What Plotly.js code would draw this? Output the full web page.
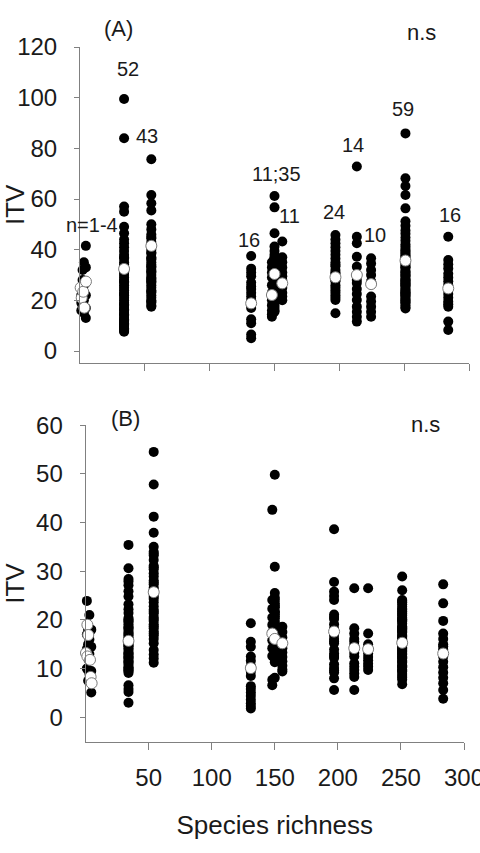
<!DOCTYPE html>
<html>
<head>
<meta charset="utf-8">
<script src="https://cdn.plot.ly/plotly-3.0.1.min.js"></script>
<style>html,body{margin:0;padding:0;background:#fff;}#chart{width:480px;height:853px;}</style>
</head>
<body>
<div id="chart"></div>
<script>
// ---------------- Panel A data ----------------
// small-richness cluster (n = 1-4 per site)
const richA_small = [1, 2, 3, 4.5];
const itvA_s1 = [16, 19, 22, 25];
const itvA_s2 = [18, 21, 24, 28, 32];
const itvA_s3 = [15, 20, 23, 26, 35];
const itvA_s4 = [13, 17, 22, 27, 33, 41.5];

const richA = [34, 55, 132, 148, 150, 156, 197, 213.5, 224.5, 251, 284];
const itvA_34 = [99.5, 84, 57, 55, 49, 46.5, 44, 42.5, 41, 39.5, 38, 36.5, 35, 34, 33, 31.5, 30, 29, 28, 27, 26, 25, 24, 23, 22, 21, 20, 19, 18, 17, 16, 15, 14.5, 14, 13, 12, 11.5, 11, 10.5, 10, 9.5, 9, 8.5, 8, 7.6, 37, 31, 27.5, 22.5, 18.5, 12.5, 16.5];
const itvA_55 = [75.7, 61.6, 58.3, 55.5, 50, 48, 46, 44.5, 43, 41.5, 40, 38.5, 37, 36, 35, 34, 33, 32, 31, 30, 29, 28, 27, 26, 25, 24, 23, 22, 21, 20, 19, 18, 17.5, 45, 39, 33.5, 27.5, 23.5, 19.5, 31.5, 42, 36.5, 28.5];
const itvA_132 = [37.5, 32.5, 31, 29.5, 25.5, 24.5, 23, 21.5, 20, 18.5, 17, 12.5, 11, 6.5, 5, 27];
const itvA_148 = [35, 33, 31, 29, 26, 23, 20, 18, 16, 14.5, 13.5];
const itvA_150 = [61.2, 56.7, 46.5, 41.2, 39.5, 38, 37, 36, 35, 34, 33, 32, 31, 30, 29, 28, 27, 26, 25, 24, 23, 22, 21, 20, 19, 18, 17, 16, 15.5, 28.5, 25.5, 21.5, 32.5, 36.5, 30.5];
const itvA_156 = [43.2, 37, 35, 33, 31, 29.5, 28, 25, 23, 21.5, 20];
const itvA_197 = [45.8, 44, 42.5, 41, 39.5, 38, 36.5, 35, 33.5, 32, 30.5, 29, 27.5, 26, 25, 24, 23, 22, 21, 20.1, 14.9, 34, 28, 31];
const itvA_213 = [72.8, 45.1, 42.5, 37.2, 33.3, 28, 26.8, 24.5, 22.5, 20.1, 17.5, 15.5, 13.5, 11.6];
const itvA_224 = [36.6, 34.5, 32, 30, 27.5, 21.5, 19.5, 17.5, 15.5, 13.5];
const itvA_251 = [85.9, 68.2, 65.1, 61.6, 56.3, 51.2, 49.4, 47.6, 46.3, 44.8, 43.5, 42.1, 41.2, 40.3, 39.1, 38.4, 37.2, 36.1, 35.3, 34.4, 33.6, 32.8, 31.7, 30.9, 30.2, 29.4, 28.5, 27.8, 26.9, 26.1, 25.4, 24.6, 23.7, 22.9, 22.1, 21.3, 20.6, 19.8, 18.9, 18.1, 17.3, 16.8, 19.2, 21.8, 24.1, 27.3, 29.8, 33.1, 36.7, 39.6, 23.2, 25.9, 28.1, 31.2, 34.9, 20.1, 22.6, 37.8, 26.5];
const itvA_284 = [45.1, 35.9, 32.6, 30.5, 29, 27.5, 26, 24, 22.5, 21, 19.5, 18.5, 17.5, 11.6, 8.3, 34.2];

const meanA_rich = [0.5, 1.3, 2.5, 3.3, 4.6, 34, 55, 132, 148, 150, 156, 197, 213.5, 224.5, 251, 284];
const meanA_itv = [25, 21, 23.4, 17.1, 27.4, 32.4, 41.5, 18.8, 22.1, 30.4, 26.7, 29.1, 30, 26.4, 35.7, 24.7];
const countA = ['n=1-4', '52', '43', '16', '11;35', '11', '24', '14', '10', '59', '16'];

// ---------------- Panel B data ----------------
const richB_small = [1, 2, 3, 4.5];
const itvB_s1 = [23.9, 17, 14, 10];
const itvB_s2 = [7.5, 12, 15, 18];
const itvB_s3 = [9, 13, 16, 21];
const itvB_s4 = [5.1, 9.5, 14.5, 18];

const richB = [34, 54, 131, 148, 150, 156, 197, 213, 224, 251, 283.5];
const itvB_34 = [35.4, 30.6, 27.9, 27.1, 24.8, 23.2, 21.4, 20.1, 19.6, 19.1, 18.6, 18.2, 17.7, 17.3, 16.8, 16.4, 15.9, 15.5, 15.1, 14.6, 14.2, 13.8, 13.3, 12.9, 12.5, 12.1, 11.6, 11.2, 10.8, 10.3, 9.9, 9.5, 9.1, 6.6, 5.8, 5.2, 3.0, 19.8, 18.4, 16.1, 14.8, 13.1, 11.4, 10.1, 17.1, 15.3, 12.3, 20.4, 22.2, 25.9, 28.4, 9.6];
const itvB_54 = [54.5, 47.8, 41.2, 37.9, 35, 34, 33.2, 32.3, 31.1, 30.4, 29.6, 28.9, 28.1, 27.3, 26.6, 25.8, 25.1, 24.3, 23.6, 22.8, 22.1, 21.3, 20.6, 19.8, 19.1, 18.3, 17.6, 16.8, 16.1, 15.2, 13.8, 12.9, 12.1, 11.2, 30.8, 27.7, 24.7, 21.7, 18.7, 33.6, 26.2, 20.2, 17.2];
const itvB_131 = [19.3, 15.5, 14.5, 12.5, 11.6, 10.6, 9.4, 8.5, 6.4, 5.8, 5.1, 4.4, 3.6, 2.9, 2.3, 1.8];
const itvB_148 = [42.6, 24.1, 22.3, 20.5, 19, 17.5, 15.8, 14.2, 12.6, 7.7, 6.6];
const itvB_150 = [49.8, 30.9, 25.5, 24.1, 23.4, 22.6, 21.8, 21.1, 20.3, 19.6, 18.8, 18.1, 17.3, 16.6, 15.8, 15.1, 14.3, 13.6, 12.8, 12.1, 11.3, 22.9, 20.7, 19.2, 17.9, 16.2, 14.7, 13.2, 11.8, 21.5, 18.4, 15.5, 12.4, 24.6, 8.1];
const itvB_156 = [18.6, 17.5, 16.4, 15.3, 14.2, 13.3, 12.4, 11.5, 10.6, 9.8, 9.4];
const itvB_197 = [38.6, 27.8, 25.8, 24.9, 24.1, 21.1, 20.2, 19.1, 18.2, 16.9, 16.1, 15.2, 13.9, 13.1, 12.2, 10.9, 10.1, 9.2, 8, 5.6, 20.6, 15.6, 12.6, 9.6];
const itvB_213 = [26.5, 18.3, 17.2, 16.1, 14.8, 13.2, 11.1, 10.4, 9.7, 9, 8.3, 5.6, 12.5, 15.5];
const itvB_224 = [26.5, 17.2, 15, 13.1, 12.4, 11.7, 11, 10.4, 9.7, 14.2];
const itvB_251 = [28.9, 26.1, 24.1, 23.6, 23.2, 22.7, 22.3, 21.8, 21.4, 20.9, 20.5, 20.1, 19.6, 19.2, 18.7, 18.3, 17.8, 17.4, 16.9, 16.5, 16.1, 15.6, 15.2, 14.7, 14.3, 13.8, 13.4, 12.9, 12.5, 12.1, 11.6, 11.2, 10.7, 10.3, 9.8, 9.4, 8.9, 8.5, 8.1, 7.7, 6.8, 23.9, 22.1, 20.2, 18.5, 16.7, 14.9, 13.1, 11.4, 9.6, 21.2, 17.6, 14.1, 10.5, 19.9, 15.9, 12.3, 18.1, 13.6];
const itvB_283 = [27.3, 23.4, 19.8, 17.2, 16.1, 15, 13.9, 12.5, 11.4, 10.3, 9.2, 8.1, 7, 5.6, 3.8, 14.6];

const meanB_rich = [1.4, 2.1, 0.3, 1.4, 3.5, 4, 4.8, 34, 54, 131, 148, 150, 156, 197, 213, 224, 251, 283.5];
const meanB_itv = [19, 16.9, 13.2, 12.5, 11.8, 8.3, 7, 15.7, 25.7, 10.1, 17.2, 16.1, 15.2, 17.6, 14.2, 14, 15.3, 13.1];

const xTickVals = [50, 100, 150, 200, 250, 300];
const xTickText = ['50', '100', '150', '200', '250', '300'];
const yTicksA = [0, 20, 40, 60, 80, 100, 120];
const yTicksB = [0, 10, 20, 30, 40, 50, 60];

// ---------------- build traces ----------------
function flatten(richList, itvLists) {
  const xs = [], ys = [];
  richList.forEach((r, i) => itvLists[i].forEach(v => { xs.push(r); ys.push(v); }));
  return {xs, ys};
}
const A = flatten(richA_small.concat(richA), [itvA_s1, itvA_s2, itvA_s3, itvA_s4, itvA_34, itvA_55, itvA_132, itvA_148, itvA_150, itvA_156, itvA_197, itvA_213, itvA_224, itvA_251, itvA_284]);
const B = flatten(richB_small.concat(richB), [itvB_s1, itvB_s2, itvB_s3, itvB_s4, itvB_34, itvB_54, itvB_131, itvB_148, itvB_150, itvB_156, itvB_197, itvB_213, itvB_224, itvB_251, itvB_283]);

const black = {color: '#000', size: 10, line: {width: 0}};
const white = {color: '#fff', size: 11, line: {color: '#7a7a7a', width: 1}};
const traces = [
  {type: 'scatter', mode: 'markers', x: A.xs, y: A.ys, xaxis: 'x', yaxis: 'y', marker: black, cliponaxis: false, hoverinfo: 'skip'},
  {type: 'scatter', mode: 'markers', x: meanA_rich, y: meanA_itv, xaxis: 'x', yaxis: 'y', marker: white, cliponaxis: false, hoverinfo: 'skip'},
  {type: 'scatter', mode: 'markers', x: B.xs, y: B.ys, xaxis: 'x2', yaxis: 'y2', marker: black, cliponaxis: false, hoverinfo: 'skip'},
  {type: 'scatter', mode: 'markers', x: meanB_rich, y: meanB_itv, xaxis: 'x2', yaxis: 'y2', marker: white, cliponaxis: false, hoverinfo: 'skip'}
];

// ---------------- layout ----------------
const FONT = 'Liberation Sans, Arial, sans-serif';
const TXT = '#1a1a1a';
const LINE = '#808080';
const W = 480, H = 853;
const px = v => v / W, py = v => 1 - v / H;

const axisCommon = {
  showline: true, linecolor: LINE, linewidth: 1, ticks: 'outside', tickcolor: LINE, tickwidth: 1,
  showgrid: false, zeroline: false, tickfont: {family: FONT, size: 24, color: TXT}, fixedrange: true,
  automargin: false, ticklabeloverflow: 'allow'
};

// count labels positions (data units)
const countPosA = [[9.6, 49.7], [37, 111.3], [51.7, 84.9], [130.4, 44], [151.2, 69.9], [161.3, 53.3], [196, 54.7], [210.6, 81.3], [227.6, 45.6], [249.2, 95.5], [285.5, 53.5]];
const annotations = countA.map((t, i) => ({
  text: t, x: countPosA[i][0], y: countPosA[i][1], xref: 'x', yref: 'y', showarrow: false,
  xanchor: 'center', yanchor: 'middle',
  font: {family: FONT, size: 20, color: TXT}
}));
const panelLabel = (t, x, y) => ({text: t, x: px(x), y: py(y), xref: 'paper', yref: 'paper', showarrow: false,
  xanchor: 'center', yanchor: 'middle', font: {family: FONT, size: 22, color: TXT}});
annotations.push(
  panelLabel('(A)', 118, 28.5),
  panelLabel('n.s', 421, 32.5),
  panelLabel('(B)', 125, 418),
  panelLabel('n.s', 425, 424)
);

const layout = {
  width: W, height: H,
  margin: {l: 0, r: 0, t: 0, b: 0},
  paper_bgcolor: '#fff', plot_bgcolor: '#fff',
  showlegend: false,
  font: {family: FONT, color: TXT},
  xaxis: Object.assign({}, axisCommon, {
    domain: [px(80), px(469)], range: [0, 300], anchor: 'y',
    tickvals: xTickVals, showticklabels: false, ticklen: 7
  }),
  yaxis: Object.assign({}, axisCommon, {
    domain: [py(362.7), py(47)], range: [-4.62, 120], anchor: 'x',
    tickvals: yTicksA, ticklen: 5, ticklabelstandoff: 12,
    title: {text: 'ITV', font: {family: FONT, size: 26, color: TXT}, standoff: 0}
  }),
  xaxis2: Object.assign({}, axisCommon, {
    domain: [px(85.6), px(464)], range: [0, 300], anchor: 'y2',
    tickvals: xTickVals, ticktext: xTickText, ticklen: 7, ticklabelstandoff: 7,
    title: {text: 'Species richness', font: {family: FONT, size: 26, color: TXT}, standoff: 26}
  }),
  yaxis2: Object.assign({}, axisCommon, {
    domain: [py(742), py(425.1)], range: [-5.07, 60], anchor: 'x2',
    tickvals: yTicksB, ticklen: 5, ticklabelstandoff: 12,
    title: {text: 'ITV', font: {family: FONT, size: 26, color: TXT}, standoff: 19}
  }),
  annotations: annotations
};

Plotly.newPlot('chart', traces, layout, {staticPlot: true, displayModeBar: false});
</script>
</body>
</html>
